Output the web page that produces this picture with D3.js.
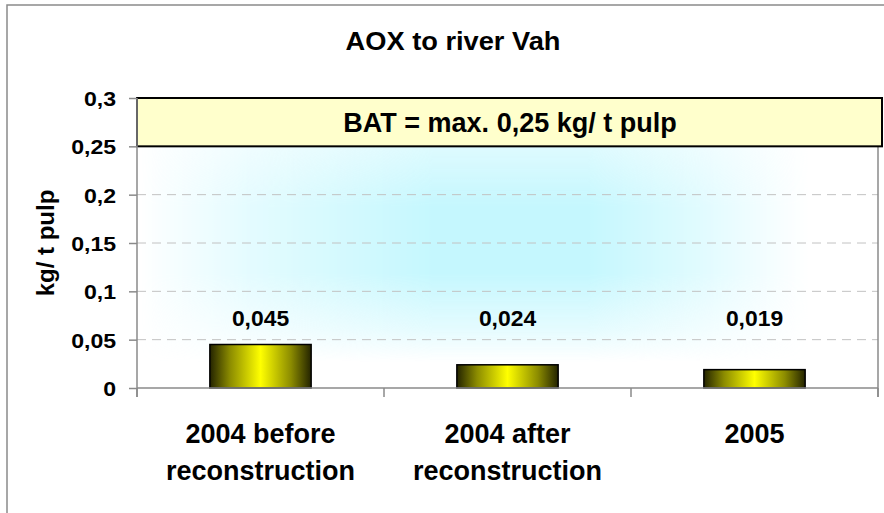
<!DOCTYPE html>
<html><head><meta charset="utf-8">
<script src="https://cdn.jsdelivr.net/npm/d3@7"></script>
<style>
html,body{margin:0;padding:0;background:#fff;}
svg text{font-family:"Liberation Sans",Arial,sans-serif;font-weight:bold;fill:#000;}
</style></head>
<body><svg id="chart" width="884" height="513"></svg>
<script>
const title = "AOX to river Vah";
const categories = [["2004 before","reconstruction"],["2004 after","reconstruction"],["2005"]];
const values = [0.045, 0.024, 0.019];
const valueLabels = ["0,045", "0,024", "0,019"];
const yTicks = [0, 0.05, 0.1, 0.15, 0.2, 0.25, 0.3];
const yTickLabels = ["0", "0,05", "0,1", "0,15", "0,2", "0,25", "0,3"];
const batValue = 0.25;
const batLabel = "BAT = max. 0,25 kg/ t pulp";
const yTitle = "kg/ t pulp";

const svg = d3.select("#chart");
const L = 137, R = 878, T = 98, B = 388;
const catKeys = categories.map((c,i)=>"c"+i);
const x = d3.scaleBand().domain(catKeys).range([L,R]).padding(0);
const y = d3.scaleLinear().domain([0,0.3]).range([B,T]);

const defs = svg.append("defs");
// outer border
svg.append("rect").attr("x",7).attr("y",5).attr("width",950).attr("height",600)
  .attr("fill","#fff").attr("stroke","#8a8a8a").attr("stroke-width",1.5);

// background gradient (rectangular-ish, product of two masks)
const hg = defs.append("linearGradient").attr("id","hg").attr("gradientUnits","userSpaceOnUse")
  .attr("x1",L).attr("x2",R).attr("y1",0).attr("y2",0);
[[140,0],[160,0.1],[250,0.45],[433,0.95],[588,0.95],[700,0.5],[790,0.08],[810,0]].forEach(([p,o])=>
  hg.append("stop").attr("offset",(p-L)/(R-L)).attr("stop-color","#fff").attr("stop-opacity",o));
const vg = defs.append("linearGradient").attr("id","vg").attr("gradientUnits","userSpaceOnUse")
  .attr("x1",0).attr("x2",0).attr("y1",T).attr("y2",B);
[[T,0.55],[150,0.6],[207,1],[273,1],[330,0.45],[362,0]].forEach(([p,o])=>
  vg.append("stop").attr("offset",(p-T)/(B-T)).attr("stop-color","#fff").attr("stop-opacity",o));
defs.append("mask").attr("id","mh").append("rect").attr("x",L).attr("y",T).attr("width",R-L).attr("height",B-T).attr("fill","url(#hg)");
defs.append("mask").attr("id","mv").append("rect").attr("x",L).attr("y",T).attr("width",R-L).attr("height",B-T).attr("fill","url(#vg)");
svg.append("g").attr("mask","url(#mv)").append("rect")
  .attr("x",L).attr("y",T).attr("width",R-L).attr("height",B-T)
  .attr("fill","#c2f7fe").attr("mask","url(#mh)");

// gridlines
svg.append("g").selectAll("line").data(yTicks.filter(d=>d>0 && d<batValue)).join("line")
  .attr("x1",L).attr("x2",R).attr("y1",d=>y(d)).attr("y2",d=>y(d))
  .attr("stroke","#c2c2c2").attr("stroke-width",1).attr("stroke-dasharray","9,6");

// right plot border
svg.append("line").attr("x1",R).attr("x2",R).attr("y1",T).attr("y2",B+9)
  .attr("stroke","#8a8a8a").attr("stroke-width",1.5);

// BAT box
svg.append("rect").attr("x",L).attr("y",y(0.3)).attr("width",882-L).attr("height",y(batValue)-y(0.3))
  .attr("fill","#ffffcc").attr("stroke","#000").attr("stroke-width",2);
svg.append("text").attr("x",510).attr("y",(y(0.3)+y(batValue))/2+9.5)
  .attr("text-anchor","middle").attr("font-size",27).text(batLabel);

// bar gradient
const bg = defs.append("linearGradient").attr("id","bar").attr("x1","0").attr("x2","1").attr("y1","0").attr("y2","0");
[[0,"#242400"],[0.2,"#8c8c00"],[0.5,"#ffff00"],[0.8,"#8c8c00"],[1,"#242400"]].forEach(([o,c])=>
  bg.append("stop").attr("offset",o).attr("stop-color",c));

const bw = x.bandwidth()*0.41;
svg.append("g").selectAll("rect").data(values).join("rect")
  .attr("x",(d,i)=>x(catKeys[i])+x.bandwidth()/2-bw/2)
  .attr("y",d=>y(d)).attr("width",bw).attr("height",d=>y(0)-y(d))
  .attr("fill","url(#bar)").attr("stroke","#000").attr("stroke-width",1.5);

// value labels
svg.append("g").selectAll("text").data(valueLabels).join("text")
  .attr("transform",(d,i)=>`translate(${x(catKeys[i])+x.bandwidth()/2},${y(0.0638)}) scale(1.04,1)`)
  .attr("text-anchor","middle").attr("font-size",22).text(d=>d);

// y axis
const yAxis = svg.append("g").attr("transform",`translate(${L},0)`)
  .call(d3.axisLeft(y).tickValues(yTicks).tickFormat((d,i)=>yTickLabels[i]).tickSize(8).tickPadding(11));
yAxis.select(".domain").remove();
yAxis.selectAll(".tick line").attr("stroke","#8a8a8a").attr("stroke-width",1.5);
yAxis.selectAll(".tick text").attr("font-size",21).attr("font-family",null).attr("fill","#000")
  .attr("dy","0.36em").attr("transform","scale(1.1,1)");
svg.append("line").attr("x1",L).attr("x2",L).attr("y1",T).attr("y2",B+9)
  .attr("stroke","#8a8a8a").attr("stroke-width",1.5);

// x axis
svg.append("line").attr("x1",L).attr("x2",R).attr("y1",B).attr("y2",B)
  .attr("stroke","#8a8a8a").attr("stroke-width",1.5);
const bounds = catKeys.map(k=>x(k)).concat([x(catKeys[catKeys.length-1])+x.bandwidth()]);
svg.append("g").selectAll("line").data(bounds).join("line")
  .attr("x1",d=>d).attr("x2",d=>d).attr("y1",B).attr("y2",B+9)
  .attr("stroke","#8a8a8a").attr("stroke-width",1.5);

// category labels
const cl = svg.append("g").selectAll("text").data(categories).join("text")
  .attr("text-anchor","middle").attr("font-size",27)
  .attr("transform",(d,i)=>`translate(${x(catKeys[i])+x.bandwidth()/2},443)`);
cl.selectAll("tspan").data(d=>d).join("tspan").attr("x",0).attr("y",(d,j)=>j*37).text(d=>d);

// y title
svg.append("text").attr("transform","translate(54,243) rotate(-90)")
  .attr("text-anchor","middle").attr("font-size",24).text(yTitle);

// chart title
svg.append("text").attr("transform","translate(453,50) scale(1.09,1)")
  .attr("text-anchor","middle").attr("font-size",25).text(title);
</script></body></html>
